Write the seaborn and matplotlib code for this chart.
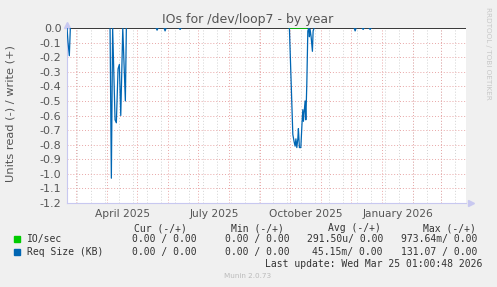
import matplotlib
matplotlib.use("Agg")
import matplotlib.pyplot as plt
import matplotlib.dates as mdates
import pandas as pd
import seaborn as sns

# ---------------- data ----------------
title = "IOs for /dev/loop7 - by year"
y_label = "Units read (-) / write (+)"

req_dates = [
    "2025-02-19 17:00", "2025-02-20 17:00", "2025-02-22 00:00", "2025-02-23 00:00",
    "2025-04-03 17:00", "2025-04-05 00:00", "2025-04-06 07:00", "2025-04-08 17:00",
    "2025-04-10 00:00", "2025-04-11 17:00", "2025-04-13 00:00", "2025-04-14 10:00",
    "2025-04-16 10:00", "2025-04-19 00:00", "2025-04-20 00:00",
    "2025-05-19 17:00", "2025-05-20 17:00", "2025-05-21 17:00",
    "2025-05-27 17:00", "2025-05-28 17:00", "2025-05-29 17:00",
    "2025-06-11 17:00", "2025-06-12 17:00", "2025-06-13 17:00",
    "2025-09-30 00:00", "2025-10-03 10:00", "2025-10-04 17:00", "2025-10-05 17:00",
    "2025-10-06 12:00", "2025-10-07 10:00", "2025-10-08 10:00", "2025-10-09 00:00",
    "2025-10-10 00:00", "2025-10-11 10:00", "2025-10-12 17:00", "2025-10-13 10:00",
    "2025-10-14 00:00", "2025-10-15 17:00", "2025-10-16 10:00", "2025-10-17 10:00",
    "2025-10-18 10:00", "2025-10-19 10:00", "2025-10-20 00:00", "2025-10-20 17:00",
    "2025-10-21 17:00", "2025-10-23 00:00", "2025-10-23 17:00", "2025-10-24 17:00",
    "2025-12-03 17:00", "2025-12-04 17:00", "2025-12-05 17:00",
    "2025-12-11 17:00", "2025-12-12 17:00", "2025-12-13 17:00",
    "2025-12-18 17:00", "2025-12-19 17:00", "2025-12-20 17:00",
]
req_values = [
    0.0, -0.10, -0.19, 0.0,
    0.0, -1.03, 0.0, -0.63,
    -0.65, -0.28, -0.25, -0.60,
    0.0, -0.50, 0.0,
    0.0, -0.015, 0.0,
    0.0, -0.02, 0.0,
    0.0, -0.01, 0.0,
    0.0, -0.73, -0.78, -0.81,
    -0.76, -0.82, -0.76, -0.69,
    -0.82, -0.82, -0.64, -0.56,
    -0.64, -0.50, -0.63, -0.38,
    -0.02, 0.0, -0.06, -0.01,
    -0.06, -0.16, -0.02, 0.0,
    0.0, -0.02, 0.0,
    0.0, -0.01, 0.0,
    0.0, -0.01, 0.0,
]
req_segments = (
    [1] * 4 + [2] * 11 + [3] * 3 + [4] * 3 + [5] * 3 + [6] * 24 + [7] * 3 + [8] * 3 + [9] * 3
)

io_dates = ["2025-09-30 00:00", "2025-10-17 10:00"]
io_values = [0.0, 0.0]

x_start = "2025-02-19 16:00"
x_end = "2026-03-25 01:00"
month_labels = ["April 2025", "July 2025", "October 2025", "January 2026"]
month_label_dates = ["2025-04-16 05:00", "2025-07-16 17:00", "2025-10-16 17:00", "2026-01-16 17:00"]
y_ticks = [0.0, -0.1, -0.2, -0.3, -0.4, -0.5, -0.6, -0.7, -0.8, -0.9, -1.0, -1.1, -1.2]

legend_names = ["IO/sec", "Req Size (KB)"]
legend_colors = ["#00CC00", "#0066B3"]
legend_headers = ["Cur (-/+)", "Min (-/+)", "Avg (-/+)", "Max (-/+)"]
legend_cur = ["0.00 / 0.00", "0.00 / 0.00"]
legend_min = ["0.00 / 0.00", "0.00 / 0.00"]
legend_avg = ["291.50u/ 0.00", "45.15m/ 0.00"]
legend_max = ["973.64m/ 0.00", "131.07 / 0.00"]
last_update = "Last update: Wed Mar 25 01:00:48 2026"
footer = "Munin 2.0.73"
side_text = "RRDTOOL / TOBI OETIKER"

# ---------------- figure ----------------
sns.set_theme(style="white")
plt.rcParams["font.family"] = ["DejaVu Sans"]
plt.rcParams["axes.unicode_minus"] = False

W, H = 497, 287
fig = plt.figure(figsize=(W / 100, H / 100), dpi=100, facecolor="#F0F0F0")
L, R, T, B = 67, 465.5, 28, 203
ax = fig.add_axes([L / W, 1 - B / H, (R - L) / W, (B - T) / H])
ax.set_facecolor("white")

req_df = pd.DataFrame({"date": pd.to_datetime(req_dates), "value": req_values, "seg": req_segments})
io_df = pd.DataFrame({"date": pd.to_datetime(io_dates), "value": io_values})

ax.set_xlim(pd.Timestamp(x_start), pd.Timestamp(x_end))
ax.set_ylim(-1.2, 0.0)

# grid: minor gray every other Sunday, major red at month starts, red horizontals
minor_days = pd.date_range("2025-03-02", x_end, freq="14D")
for d in minor_days:
    ax.axvline(d, color="#D2D2D2", lw=0.7, linestyle=(0, (1, 2)), zorder=1)
month_starts = pd.date_range("2025-03-01", x_end, freq="MS")
for d in month_starts:
    ax.axvline(d, color="#E8A6A6", lw=0.7, linestyle=(0, (1, 2)), zorder=1.1)
for yv in y_ticks[1:]:
    ax.axhline(yv, color="#E8A6A6", lw=0.7, linestyle=(0, (1, 2)), zorder=1.1)

ax.axhline(0, color="black", lw=1.1, zorder=2)

sns.lineplot(data=io_df, x="date", y="value", color="#00CC00", lw=1.1, ax=ax, zorder=3)
sns.lineplot(data=req_df, x="date", y="value", units="seg", estimator=None, sort=False,
             color="#0066B3", lw=0.9, ax=ax, zorder=4)

ax.set_xlabel("")
ax.set_ylabel("")

ax.set_yticks(y_ticks)
ax.set_yticklabels([f"{v:.1f}" for v in y_ticks], fontsize=8, color="#555555")
ax.set_xticks(list(month_starts))
ax.set_xticklabels([""] * len(month_starts))
ax.set_xticks([pd.Timestamp(d) for d in month_label_dates], minor=True)
ax.set_xticklabels(month_labels, minor=True, fontsize=7.7, color="#555555")
ax.tick_params(axis="x", which="major", length=2, color="#E8A6A6", width=0.7, direction="out")
ax.tick_params(axis="x", which="minor", length=0, pad=4)
ax.tick_params(axis="y", length=2, color="#E8A6A6", width=0.7, pad=2)

for s in ["top", "right"]:
    ax.spines[s].set_visible(False)
for s in ["left", "bottom"]:
    ax.spines[s].set_color("#C8C8F0")
    ax.spines[s].set_linewidth(0.8)

# axis arrows
ax.plot([0], [1.02], marker="^", color="#C8C8F0", markersize=4, transform=ax.transAxes, clip_on=False)
ax.plot([1.015], [0], marker=">", color="#C8C8F0", markersize=4, transform=ax.transAxes, clip_on=False)

# title, y label and side text
fig.text(248 / W, 1 - 19 / H, title, ha="center", va="center", fontsize=9, color="#555555")
fig.text(11 / W, 1 - 114 / H, y_label, ha="center", va="center", rotation=90, fontsize=8.2,
         color="#555555")
fig.text(488 / W, 1 - 53 / H, side_text, ha="center", va="center", rotation=270,
         fontsize=5.2, color="#C8C8C8")

# legend block
mono = "DejaVu Sans Mono"
tc = "#333333"
fs = 7.0
hdr_x = [134, 231, 328, 423]
for x, h in zip(hdr_x, legend_headers):
    fig.text(x / W, 1 - 228.3 / H, h, ha="left", va="center", fontsize=fs, family=mono, color=tc)
row_y = [239.3, 251.7]
for i in range(2):
    y = 1 - row_y[i] / H
    fig.patches.append(plt.Rectangle((14 / W, y - 3 / H), 6 / W, 6 / H, transform=fig.transFigure,
                                     color=legend_colors[i]))
    fig.text(26.7 / W, y, legend_names[i], ha="left", va="center", fontsize=fs, family=mono, color=tc)
    fig.text(196.7 / W, y, legend_cur[i], ha="right", va="center", fontsize=fs, family=mono, color=tc)
    fig.text(290 / W, y, legend_min[i], ha="right", va="center", fontsize=fs, family=mono, color=tc)
    fig.text(383 / W, y, legend_avg[i], ha="right", va="center", fontsize=fs, family=mono, color=tc)
    fig.text(477 / W, y, legend_max[i], ha="right", va="center", fontsize=fs, family=mono, color=tc)
fig.text(482.7 / W, 1 - 263.7 / H, last_update, ha="right", va="center", fontsize=fs, family=mono, color=tc)
fig.text(248 / W, 1 - 276.3 / H, footer, ha="center", va="center", fontsize=5.2, color="#BBBBBB")

fig.savefig("out.png", dpi=100, facecolor=fig.get_facecolor())
